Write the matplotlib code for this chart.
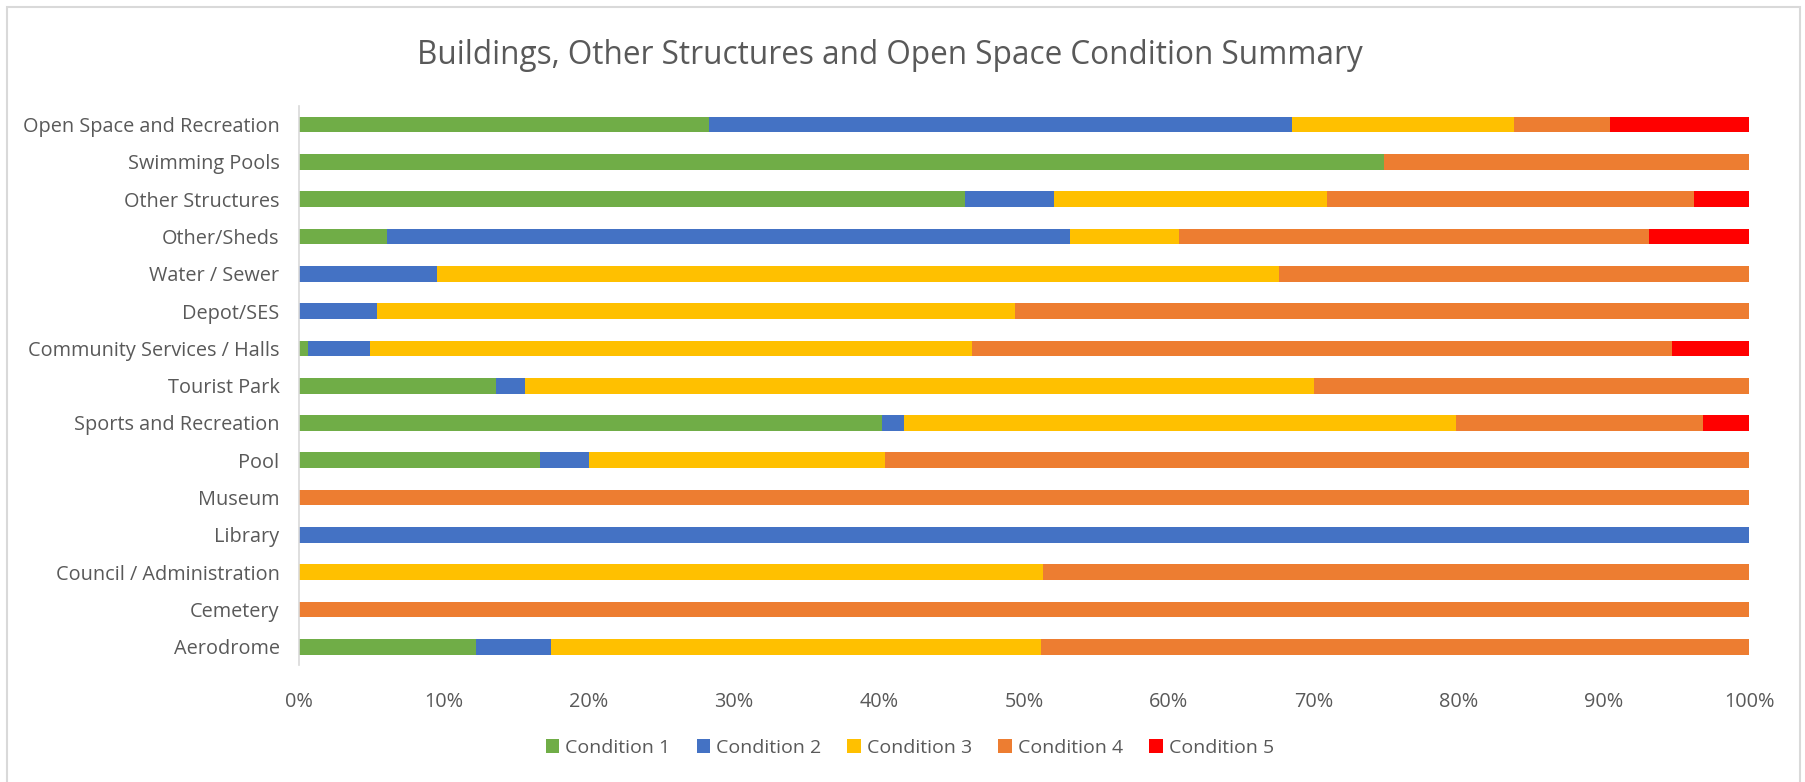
import matplotlib
matplotlib.use("Agg")
import matplotlib.pyplot as plt
from matplotlib.patches import Rectangle, Patch
import numpy as np

plt.rcParams['font.family'] = ['Open Sans', 'DejaVu Sans']

categories = ["Aerodrome", "Cemetery", "Council / Administration", "Library", "Museum",
              "Pool", "Sports and Recreation", "Tourist Park", "Community Services / Halls",
              "Depot/SES", "Water / Sewer", "Other/Sheds", "Other Structures",
              "Swimming Pools", "Open Space and Recreation"]
condition_1 = [12.2, 0, 0, 0, 0, 16.6, 40.2, 13.6, 0.6, 0, 0, 6.1, 45.9, 74.8, 28.3]
condition_2 = [5.2, 0, 0, 100, 0, 3.4, 1.5, 2.0, 4.3, 5.4, 9.5, 47.1, 6.2, 0, 40.2]
condition_3 = [33.8, 0, 51.3, 0, 0, 20.4, 38.1, 54.4, 41.5, 44.0, 58.1, 7.5, 18.8, 0, 15.3]
condition_4 = [48.8, 100, 48.7, 0, 100, 59.6, 17.0, 30.0, 48.3, 50.6, 32.4, 32.4, 25.3, 25.2, 6.6]
condition_5 = [0, 0, 0, 0, 0, 0, 3.2, 0, 5.3, 0, 0, 6.9, 3.8, 0, 9.6]
series_names = ["Condition 1", "Condition 2", "Condition 3", "Condition 4", "Condition 5"]
x_ticks = [0, 10, 20, 30, 40, 50, 60, 70, 80, 90, 100]

colors = ["#70AD47", "#4472C4", "#FFC000", "#ED7D31", "#FF0000"]
series = [condition_1, condition_2, condition_3, condition_4, condition_5]

fig = plt.figure(figsize=(18.05, 7.82), dpi=100)
ax = fig.add_axes([299/1805, 1-665.4/782, 1450/1805, (665.4-106)/782])

y = np.arange(len(categories))
left = np.zeros(len(categories))
for vals, col, name in zip(series, colors, series_names):
    v = np.array(vals, dtype=float)
    ax.barh(y, v, left=left, height=0.42, color=col, label=name, linewidth=0)
    left += v

ax.set_xlim(0, 100)
ax.set_ylim(-0.5, len(categories) - 0.5)
ax.set_yticks(y)
ax.set_yticklabels(categories)
ax.set_xticks(x_ticks)
ax.set_xticklabels([f"{t}%" for t in x_ticks])
ax.tick_params(axis='both', length=0, labelsize=14.3, colors="#595959")
ax.tick_params(axis='y', pad=14)
ax.tick_params(axis='x', pad=19)
for s in ["top", "right", "bottom"]:
    ax.spines[s].set_visible(False)
ax.spines["left"].set_color("#D9D9D9")
ax.spines["left"].set_linewidth(1.2)

fig.text(0.493, 1-55/782, "Buildings, Other Structures and Open Space Condition Summary",
         ha="center", va="center", fontsize=22.7, color="#595959")

handles = [Patch(facecolor=c, edgecolor='none', label=n) for c, n in zip(colors, series_names)]
fig.legend(handles=handles, loc="center", bbox_to_anchor=(0.504, 1-748/782), ncol=5,
           frameon=False, fontsize=14, labelcolor="#595959", handlelength=0.7,
           handleheight=0.7, handletextpad=0.3, columnspacing=1.35)

fig.patches.append(Rectangle((7/1805, -0.05), (1800-7)/1805, 1.05-7/782, transform=fig.transFigure,
                             fill=False, edgecolor="#D9D9D9", linewidth=1.5))

fig.savefig("out.png", dpi=100)
